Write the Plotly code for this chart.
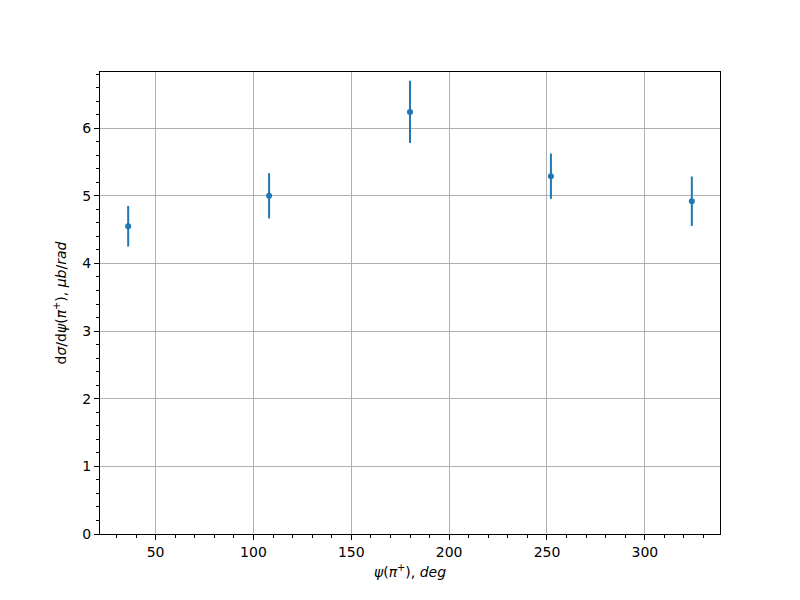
import plotly.graph_objects as go

psi_deg = [36, 108, 180, 252, 324]
dsigma = [4.55, 5.00, 6.24, 5.29, 4.92]
dsigma_err = [0.30, 0.335, 0.46, 0.335, 0.365]

blue = "#1f77b4"
font_family = "DejaVu Sans"

fig = go.Figure()
fig.add_trace(go.Scatter(
    x=psi_deg, y=dsigma, mode="markers",
    marker=dict(color=blue, size=6),
    error_y=dict(type="data", array=dsigma_err, visible=True,
                 color=blue, thickness=2, width=0),
    showlegend=False,
))

axis_common = dict(
    showline=True, linecolor="black", linewidth=1, mirror=True,
    ticks="outside", ticklen=5, tickwidth=1, tickcolor="black",
    showgrid=True, gridcolor="#b0b0b0", gridwidth=1,
    zeroline=False,
    tickfont=dict(family=font_family, size=14, color="black"),
)

fig.update_layout(
    width=800, height=600,
    paper_bgcolor="white", plot_bgcolor="white",
    margin=dict(l=92, r=88, t=64, b=74),
    font=dict(family=font_family, size=14, color="black"),
    xaxis=dict(
        range=[21.6, 338.4], tickmode="array",
        tickvals=[50, 100, 150, 200, 250, 300],
        minor=dict(dtick=10, tick0=0, ticks="outside", ticklen=3,
                   tickcolor="black", showgrid=False),
        title=dict(text="<i>ψ</i>(<i>π</i><sup>+</sup>), <i>deg</i>",
                   font=dict(family=font_family, size=14), standoff=8),
        **axis_common,
    ),
    yaxis=dict(
        range=[0, 6.83], tickmode="array",
        tickvals=[0, 1, 2, 3, 4, 5, 6],
        minor=dict(dtick=0.2, tick0=0, ticks="outside", ticklen=3,
                   tickcolor="black", showgrid=False),
        title=dict(text="d<i>σ</i>/d<i>ψ</i>(<i>π</i><sup>+</sup>), <i>μb</i>/<i>rad</i>",
                   font=dict(family=font_family, size=14), standoff=12),
        **axis_common,
    ),
)

fig.write_html("out.html")
